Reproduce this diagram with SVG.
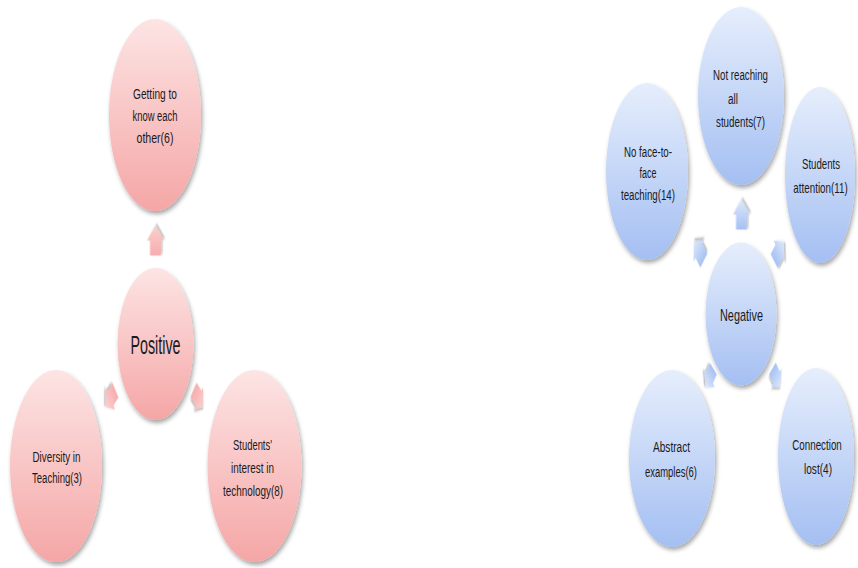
<svg xmlns="http://www.w3.org/2000/svg" xmlns:xlink="http://www.w3.org/1999/xlink" width="858" height="568" viewBox="0 0 858 568">
  <style>
    .t { font-family: "Liberation Sans", Arial, sans-serif; font-size: 14px; fill: #1a1a1a; text-anchor: middle; }
    .big { font-size: 25px; }
    .mid { font-size: 17px; }
    .pk { fill: url(#pinkG); filter: url(#sh); }
    .bl { fill: url(#blueG); filter: url(#sh); }
    .pa { fill: url(#pinkA); filter: url(#sh2); }
    .ba { fill: url(#blueA); filter: url(#sh2); }
  </style>
  <defs>
    <linearGradient id="pinkG" x1="0" y1="0" x2="0" y2="1">
      <stop offset="0" stop-color="#fde4e4"/>
      <stop offset="1" stop-color="#f5a6a6"/>
    </linearGradient>
    <linearGradient id="blueG" x1="0" y1="0" x2="0" y2="1">
      <stop offset="0" stop-color="#e6eefc"/>
      <stop offset="1" stop-color="#a4bff2"/>
    </linearGradient>
    <linearGradient id="pinkA" x1="0" y1="0" x2="1" y2="0">
      <stop offset="0" stop-color="#f6adad"/>
      <stop offset="1" stop-color="#fbcfcf"/>
    </linearGradient>
    <linearGradient id="blueA" x1="0" y1="0" x2="1" y2="0">
      <stop offset="0" stop-color="#a6c1f3"/>
      <stop offset="1" stop-color="#dde7fb"/>
    </linearGradient>
    <filter id="sh" x="-20%" y="-10%" width="150%" height="130%">
      <feDropShadow dx="1.5" dy="3" stdDeviation="2" flood-color="#000" flood-opacity="0.35"/>
    </filter>
    <filter id="sh2" x="-60%" y="-60%" width="220%" height="220%">
      <feDropShadow dx="1.5" dy="2.5" stdDeviation="1.5" flood-color="#000" flood-opacity="0.35"/>
    </filter>
    <path id="arr" d="M-15,-11 H0 V-17 L15,0 L0,17 V11 H-15 Z"/>
  </defs>

  <g id="connectors">
    <use xlink:href="#arr" class="pa" transform="translate(155.5,240.5) scale(0.5,1) rotate(-90)"/>
    <use xlink:href="#arr" class="pa" transform="translate(110.5,398.5) scale(0.5,1) rotate(140) scale(0.85)"/>
    <use xlink:href="#arr" class="pa" transform="translate(198.5,398) scale(0.5,1) rotate(40) scale(0.85)"/>
    <use xlink:href="#arr" class="ba" transform="translate(741.5,214.5) scale(0.5,1) rotate(-90)"/>
    <use xlink:href="#arr" class="ba" transform="translate(699,251) scale(0.5,1) rotate(-135) scale(0.9)"/>
    <use xlink:href="#arr" class="ba" transform="translate(779,251.5) scale(0.5,1) rotate(-45) scale(0.9)"/>
    <use xlink:href="#arr" class="ba" transform="translate(709.5,378) scale(0.5,1) rotate(130) scale(0.8)"/>
    <use xlink:href="#arr" class="ba" transform="translate(776.5,377.5) scale(0.5,1) rotate(48) scale(0.8)"/>
  </g>

  <g id="positive">
    <ellipse class="pk" cx="155.5" cy="344" rx="38" ry="76"/>
    <text class="t big" x="155.5" y="354" textLength="50" lengthAdjust="spacingAndGlyphs">Positive</text>
  </g>
  <g id="getting-to-know">
    <ellipse class="pk" cx="155" cy="115" rx="46" ry="96"/>
    <text class="t" x="155" y="98.5" textLength="44" lengthAdjust="spacingAndGlyphs">Getting to</text>
    <text class="t" x="155" y="120.5" textLength="45" lengthAdjust="spacingAndGlyphs">know each</text>
    <text class="t" x="155" y="142.5" textLength="37" lengthAdjust="spacingAndGlyphs">other(6)</text>
  </g>
  <g id="diversity">
    <ellipse class="pk" cx="56" cy="466" rx="46" ry="96"/>
    <text class="t" x="56.5" y="461.5" textLength="48" lengthAdjust="spacingAndGlyphs">Diversity in</text>
    <text class="t" x="57" y="482.5" textLength="50" lengthAdjust="spacingAndGlyphs">Teaching(3)</text>
  </g>
  <g id="students-interest">
    <ellipse class="pk" cx="254.5" cy="466" rx="47" ry="96"/>
    <text class="t" x="252.5" y="449.5" textLength="39" lengthAdjust="spacingAndGlyphs">Students'</text>
    <text class="t" x="252.5" y="472.5" textLength="43" lengthAdjust="spacingAndGlyphs">interest in</text>
    <text class="t" x="253" y="495.5" textLength="60" lengthAdjust="spacingAndGlyphs">technology(8)</text>
  </g>

  <g id="negative">
    <ellipse class="bl" cx="741" cy="314" rx="35.5" ry="71.5"/>
    <text class="t mid" x="741.5" y="321" textLength="43" lengthAdjust="spacingAndGlyphs">Negative</text>
  </g>
  <g id="not-reaching">
    <ellipse class="bl" cx="741" cy="96" rx="43" ry="89"/>
    <text class="t" x="740.5" y="79.5" textLength="55" lengthAdjust="spacingAndGlyphs">Not reaching</text>
    <text class="t" x="733" y="103.5" textLength="10" lengthAdjust="spacingAndGlyphs">all</text>
    <text class="t" x="740.5" y="126.5" textLength="49" lengthAdjust="spacingAndGlyphs">students(7)</text>
  </g>
  <g id="no-face-to-face">
    <ellipse class="bl" cx="647" cy="171.5" rx="41" ry="88.5"/>
    <text class="t" x="648" y="156.5" textLength="48" lengthAdjust="spacingAndGlyphs">No face-to-</text>
    <text class="t" x="648" y="177.5" textLength="17" lengthAdjust="spacingAndGlyphs">face</text>
    <text class="t" x="648" y="199.5" textLength="54" lengthAdjust="spacingAndGlyphs">teaching(14)</text>
  </g>
  <g id="students-attention">
    <ellipse class="bl" cx="820" cy="175" rx="35" ry="88"/>
    <text class="t" x="821" y="168.5" textLength="38" lengthAdjust="spacingAndGlyphs">Students</text>
    <text class="t" transform="translate(820.5,192.5) scale(0.7,1)" x="0" y="0">attention(11)</text>
  </g>
  <g id="abstract-examples">
    <ellipse class="bl" cx="672" cy="458.5" rx="43" ry="88.5"/>
    <text class="t" x="671.5" y="451.5" textLength="37" lengthAdjust="spacingAndGlyphs">Abstract</text>
    <text class="t" x="671" y="476.5" textLength="52" lengthAdjust="spacingAndGlyphs">examples(6)</text>
  </g>
  <g id="connection-lost">
    <ellipse class="bl" cx="816" cy="456.5" rx="38" ry="88.5"/>
    <text class="t" transform="translate(817,449.5) scale(0.7,1)" x="0" y="0">Connection</text>
    <text class="t" x="818" y="473.5" textLength="28" lengthAdjust="spacingAndGlyphs">lost(4)</text>
  </g>
</svg>
